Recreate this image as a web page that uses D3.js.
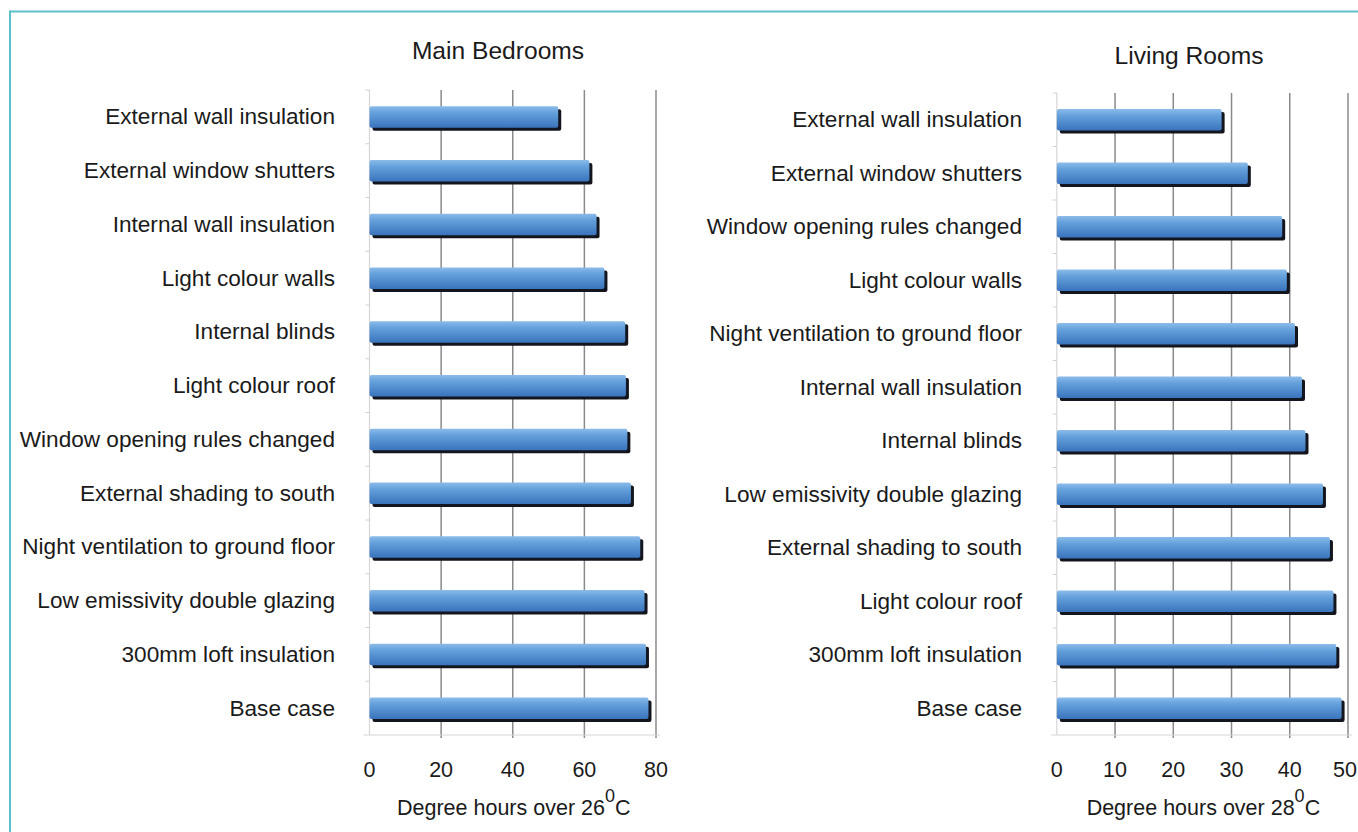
<!DOCTYPE html>
<html>
<head>
<meta charset="utf-8">
<script src="https://cdn.jsdelivr.net/npm/d3@7"></script>
<style>
  html, body { margin: 0; padding: 0; background: #fff; }
  svg { display: block; font-family: "Liberation Sans", Arial, sans-serif; }
</style>
</head>
<body>
<svg id="chart" width="1358" height="832"></svg>
<script>
// Degree hours above the comfort threshold for each overheating measure
const bedroomCategories = [
  "External wall insulation", "External window shutters", "Internal wall insulation",
  "Light colour walls", "Internal blinds", "Light colour roof",
  "Window opening rules changed", "External shading to south",
  "Night ventilation to ground floor", "Low emissivity double glazing",
  "300mm loft insulation", "Base case"
];
const bedroomValues = [52.7, 61.4, 63.4, 65.6, 71.4, 71.6, 72.0, 73.0, 75.6, 76.8, 77.2, 77.9];
const bedroomTicks = [0, 20, 40, 60, 80];

const livingCategories = [
  "External wall insulation", "External window shutters", "Window opening rules changed",
  "Light colour walls", "Night ventilation to ground floor", "Internal wall insulation",
  "Internal blinds", "Low emissivity double glazing", "External shading to south",
  "Light colour roof", "300mm loft insulation", "Base case"
];
const livingValues = [28.3, 32.8, 38.7, 39.5, 40.9, 42.1, 42.7, 45.7, 46.9, 47.5, 48.0, 48.9];
const livingTicks = [0, 10, 20, 30, 40, 50];

const W = 1358;
const svg = d3.select("#chart");

// Frame lines along the top and left edges
svg.append("line").attr("x1", 10).attr("x2", W).attr("y1", 11.5).attr("y2", 11.5)
  .attr("stroke", "#5cc0cc").attr("stroke-width", 2);
svg.append("line").attr("x1", 10).attr("x2", 10).attr("y1", 10.5).attr("y2", 832)
  .attr("stroke", "#5cc0cc").attr("stroke-width", 2);

// Bar fill: light top edge fading to a deeper blue
const defs = svg.append("defs");
const grad = defs.append("linearGradient").attr("id", "barFill")
  .attr("x1", 0).attr("y1", 0).attr("x2", 0).attr("y2", 1);
grad.append("stop").attr("offset", "0%").attr("stop-color", "#8cbcea");
grad.append("stop").attr("offset", "30%").attr("stop-color", "#65a1dc");
grad.append("stop").attr("offset", "100%").attr("stop-color", "#3a74bd");

function drawPanel(opts) {
  const { categories, values, ticks, x0, x1, top, bottom, labelX, title, titleX, titleY, threshold } = opts;
  const g = svg.append("g");

  const x = d3.scaleLinear().domain([ticks[0], ticks[ticks.length - 1]]).range([x0, x1]);
  const y = d3.scaleBand().domain(categories).range([top, bottom]).paddingInner(0.6).paddingOuter(0.3);
  const band = d3.scaleBand().domain(categories).range([top, bottom]);

  // Vertical gridlines at every non-zero tick
  g.selectAll(".grid").data(ticks.filter(t => t !== 0)).join("line")
    .attr("x1", d => x(d)).attr("x2", d => x(d))
    .attr("y1", top).attr("y2", bottom + 3)
    .attr("stroke", "#8a8a8a").attr("stroke-width", 1.5);

  // Category axis line and its small separators
  g.append("line").attr("x1", x0).attr("x2", x0).attr("y1", top).attr("y2", bottom)
    .attr("stroke", "#d6d6d6").attr("stroke-width", 1.2);
  g.selectAll(".sep").data(categories).join("line")
    .attr("x1", x0 - 4).attr("x2", x0)
    .attr("y1", d => band(d)).attr("y2", d => band(d))
    .attr("stroke", "#d0d0d0").attr("stroke-width", 1);

  // Value axis baseline
  g.append("line").attr("x1", x0 - 6).attr("x2", x1 + 4).attr("y1", bottom).attr("y2", bottom)
    .attr("stroke", "#d6d6d6").attr("stroke-width", 1.2);

  // Bars with a dark drop shadow
  g.selectAll(".shadow").data(values).join("rect")
    .attr("x", x(0) + 3)
    .attr("y", (d, i) => y(categories[i]) + 3)
    .attr("width", d => x(d) - x(0))
    .attr("height", y.bandwidth())
    .attr("rx", 2)
    .attr("fill", "#14161f");
  g.selectAll(".bar").data(values).join("rect")
    .attr("x", x(0))
    .attr("y", (d, i) => y(categories[i]))
    .attr("width", d => x(d) - x(0))
    .attr("height", y.bandwidth())
    .attr("rx", 2)
    .attr("fill", "url(#barFill)");

  // Category labels
  g.selectAll(".cat").data(categories).join("text")
    .attr("x", labelX)
    .attr("y", d => y(d) + y.bandwidth() / 2 + 1.5)
    .attr("text-anchor", "end")
    .attr("dominant-baseline", "middle")
    .attr("font-size", 22.6)
    .attr("fill", "#1a1a1a")
    .text(d => d);

  // Value tick labels (kept inside the page's right edge)
  g.selectAll(".tick").data(ticks).join("text")
    .attr("y", bottom + 42)
    .attr("font-size", 21.5)
    .attr("fill", "#1a1a1a")
    .text(d => d)
    .each(function (d) {
      const el = d3.select(this);
      const w = this.getComputedTextLength();
      const cx = Math.min(x(d), W - 1 - w / 2);
      el.attr("x", cx).attr("text-anchor", "middle");
    });

  // Value axis title with raised degree mark
  const t = g.append("text")
    .attr("x", (x0 + x1) / 2 + 1)
    .attr("y", bottom + 80)
    .attr("text-anchor", "middle")
    .attr("font-size", 21.5)
    .attr("fill", "#1a1a1a");
  t.append("tspan").text("Degree hours over " + threshold);
  t.append("tspan").attr("dy", -13).attr("font-size", 18).text("0");
  t.append("tspan").attr("dy", 13).text("C");

  // Panel title
  g.append("text")
    .attr("x", titleX).attr("y", titleY)
    .attr("text-anchor", "middle")
    .attr("font-size", 24.6)
    .attr("fill", "#1a1a1a")
    .text(title);
}

drawPanel({
  categories: bedroomCategories, values: bedroomValues, ticks: bedroomTicks,
  x0: 369.5, x1: 656, top: 90, bottom: 735, labelX: 335,
  title: "Main Bedrooms", titleX: 498, titleY: 59, threshold: 26
});

drawPanel({
  categories: livingCategories, values: livingValues, ticks: livingTicks,
  x0: 1056.8, x1: 1348, top: 93, bottom: 735, labelX: 1022,
  title: "Living Rooms", titleX: 1189, titleY: 64, threshold: 28
});
</script>
</body>
</html>
